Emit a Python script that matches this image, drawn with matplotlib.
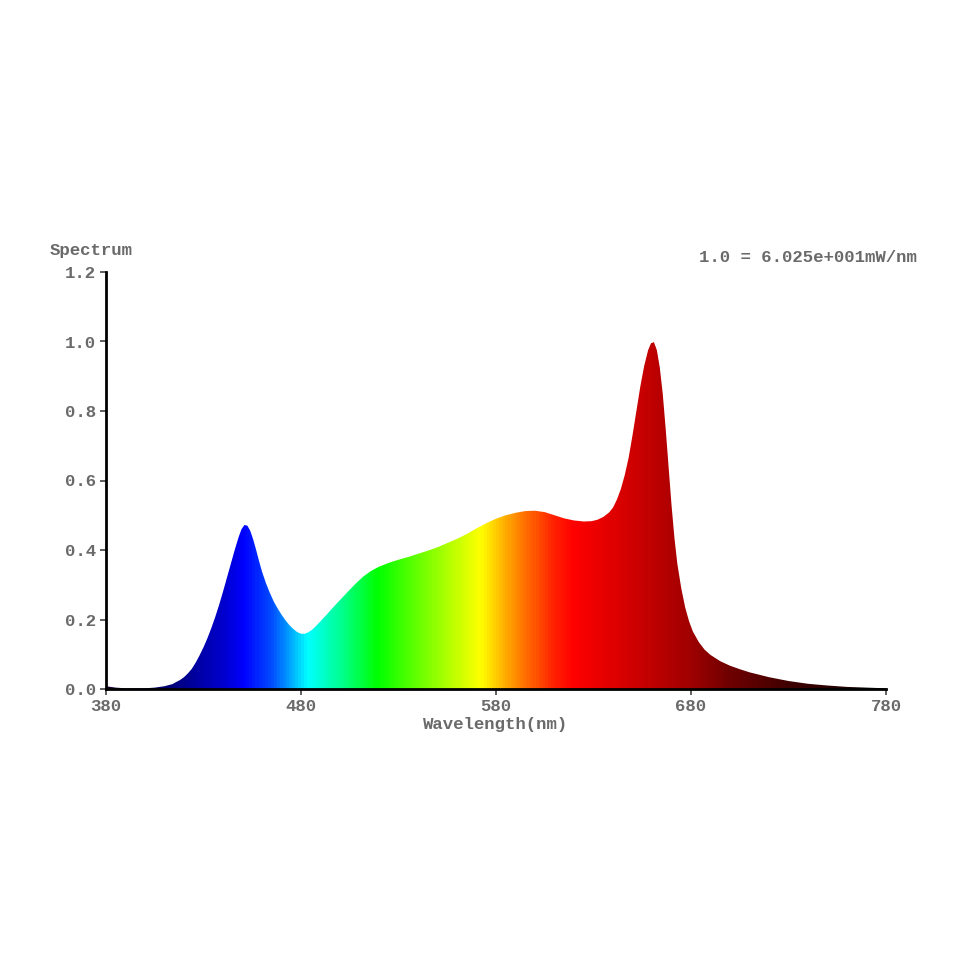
import numpy as np
import matplotlib
matplotlib.use("Agg")
import matplotlib.pyplot as plt
from matplotlib.colors import LinearSegmentedColormap
from matplotlib.patches import Polygon

# Spectrum data (wavelength nm, relative intensity)
wavelength = [380, 385, 390, 400, 405, 410, 414, 418, 420, 422, 424, 426, 428, 430, 432,
              434, 436, 438, 440, 442, 444, 446, 448, 449.5, 451, 452.5, 454, 455.5, 457,
              458.5, 460, 462, 464, 466, 468, 470, 472, 474, 476, 478, 480, 482, 484,
              486, 488, 490, 493, 496, 500, 504, 508, 512, 516, 520, 525, 530, 535, 540,
              545, 550, 555, 560, 565, 570, 575, 580, 585, 590, 595, 600, 605, 610, 615,
              620, 625, 629, 632, 635, 638, 640, 642, 644, 646, 648, 650, 652, 654, 656,
              658, 659.5, 661, 662.5, 664, 665.5, 667, 668.5, 670, 671.5, 673, 675, 677,
              679, 681, 684, 687, 690, 695, 700, 705, 710, 720, 730, 740, 750, 760, 770,
              780]
intensity = [0.008, 0.004, 0.002, 0.002, 0.004, 0.008, 0.014, 0.026, 0.034, 0.045, 0.058,
             0.076, 0.097, 0.12, 0.146, 0.175, 0.207, 0.242, 0.28, 0.32, 0.36, 0.40, 0.437,
             0.46, 0.472, 0.47, 0.455, 0.43, 0.40, 0.368, 0.338, 0.305, 0.277, 0.252,
             0.232, 0.214, 0.198, 0.184, 0.173, 0.164, 0.159, 0.159, 0.164, 0.172, 0.183,
             0.195, 0.213, 0.232, 0.256, 0.28, 0.303, 0.324, 0.34, 0.352, 0.363, 0.372,
             0.38, 0.389, 0.398, 0.408, 0.42, 0.432, 0.446, 0.462, 0.477, 0.49, 0.50,
             0.507, 0.512, 0.513, 0.509, 0.50, 0.491, 0.485, 0.482, 0.483, 0.487, 0.495,
             0.508, 0.522, 0.545, 0.575, 0.615, 0.665, 0.73, 0.80, 0.87, 0.93, 0.975,
             0.995, 0.998, 0.975, 0.925, 0.85, 0.75, 0.64, 0.53, 0.435, 0.36, 0.29, 0.235,
             0.195, 0.165, 0.135, 0.113, 0.098, 0.08, 0.067, 0.057, 0.048, 0.034, 0.023,
             0.015, 0.010, 0.006, 0.004, 0.002]

x_ticks = [380, 480, 580, 680, 780]
y_ticks = [0.0, 0.2, 0.4, 0.6, 0.8, 1.0, 1.2]

# colour stops along wavelength
color_wl = [380, 410, 425, 440, 450, 465, 475, 483, 500, 519, 545, 572, 592, 610, 620,
            640, 660, 680, 700, 730, 760, 780]
color_hex = ["#1a0030", "#000070", "#0000a0", "#0000d0", "#0000ff", "#0050ff", "#00b0ff",
             "#00ffff", "#00ff90", "#00ff00", "#80ff00", "#ffff00", "#ff8000", "#ff2000",
             "#ff0000", "#e00000", "#c00000", "#a00000", "#700000", "#400000", "#200000",
             "#000000"]

fig = plt.figure(figsize=(9.70, 9.71), dpi=100)
ax = fig.add_axes([106/970, 1-689/971, 780/970, 417/971])

pos = [(w - 380) / 400 for w in color_wl]
cmap = LinearSegmentedColormap.from_list("spec", list(zip(pos, color_hex)))

grad = np.linspace(0, 1, 800).reshape(1, -1)
im = ax.imshow(grad, extent=[380, 780, 0, 1.2], aspect="auto", cmap=cmap,
               origin="lower", zorder=1)
verts = [(380, 0)] + list(zip(wavelength, intensity)) + [(780, 0)]
poly = Polygon(verts, closed=True, facecolor="none", edgecolor="none",
               transform=ax.transData)
ax.add_patch(poly)
im.set_clip_path(poly)

ax.set_xlim(380, 780)
ax.set_ylim(0, 1.2)
ax.set_xticks(x_ticks)
ax.set_yticks(y_ticks)
ax.set_xticklabels([str(v) for v in x_ticks])
ax.set_yticklabels([f"{v:.1f}" for v in y_ticks])

for s in ["top", "right"]:
    ax.spines[s].set_visible(False)
for s in ["left", "bottom"]:
    ax.spines[s].set_linewidth(2.0)
    ax.spines[s].set_color("black")
    ax.spines[s].set_zorder(5)

font = dict(family=["Liberation Mono", "DejaVu Sans Mono"], weight="bold")
ax.tick_params(axis="both", direction="out", length=4, width=1.2, color="#444444",
               labelcolor="#6a6a6a", labelsize=12.5, pad=3)
for lab in ax.get_xticklabels() + ax.get_yticklabels():
    lab.set_family(font["family"])
    lab.set_weight("bold")

ax.set_xlabel("Wavelength(nm)", fontsize=12.5, color="#6a6a6a", labelpad=2, **font)

fig.text(50/970, 1-251/971, "Spectrum", fontsize=12.5, color="#6a6a6a",
         ha="left", va="center", **font)
fig.text(917/970, 1-258/971, "1.0 = 6.025e+001mW/nm", fontsize=12.5, color="#6a6a6a",
         ha="right", va="center", **font)

fig.savefig("out.png", dpi=100, facecolor="white")
